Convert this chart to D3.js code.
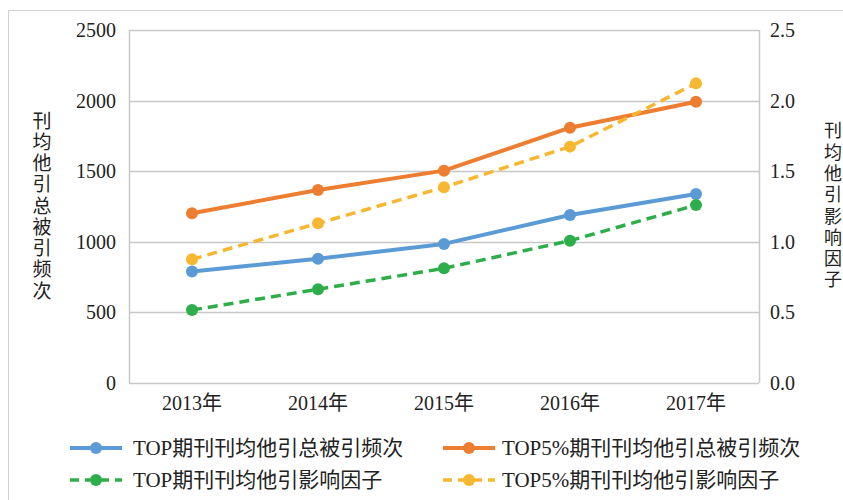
<!DOCTYPE html>
<html><head><meta charset="utf-8">
<script src="https://cdn.jsdelivr.net/npm/d3@7"></script>
<style>
html,body{margin:0;padding:0;background:#fff;}
svg{display:block;}
text{font-family:"Liberation Serif","Noto Sans CJK SC",serif;fill:#222;}
</style></head>
<body>
<script>
const years = ["2013年","2014年","2015年","2016年","2017年"];
const topCites = [790, 880, 985, 1190, 1338];
const top5Cites = [1202, 1367, 1504, 1808, 1992];
const topIF = [0.517, 0.664, 0.812, 1.008, 1.26];
const top5IF = [0.876, 1.131, 1.386, 1.674, 2.122];
const leftTicks = [0, 500, 1000, 1500, 2000, 2500];
const rightTicks = [0, 0.5, 1.0, 1.5, 2.0, 2.5];
const leftTitle = "刊均他引总被引频次";
const rightTitle = "刊均他引影响因子";

const series = [
  {name:"TOP期刊刊均他引总被引频次", values: topCites, axis:"left", color:"#5B9BD5", dash:null},
  {name:"TOP5%期刊刊均他引总被引频次", values: top5Cites, axis:"left", color:"#ED7D31", dash:null},
  {name:"TOP期刊刊均他引影响因子", values: topIF, axis:"right", color:"#2EAD4B", dash:"10,6"},
  {name:"TOP5%期刊刊均他引影响因子", values: top5IF, axis:"right", color:"#F7B731", dash:"10,6"}
];

const W = 843, H = 500;
const m = {left:129, top:30, right:84, bottom:117};
const svg = d3.select("body").append("svg").attr("width",W).attr("height",H);

svg.append("rect").attr("x",8.5).attr("y",10.5).attr("width",W).attr("height",H)
  .attr("fill","none").attr("stroke","#d0d0d0").attr("stroke-width",1);

const x = d3.scaleBand().domain(years).range([m.left, W-m.right]);
const yL = d3.scaleLinear().domain([0,2500]).range([H-m.bottom, m.top]);
const yR = d3.scaleLinear().domain([0,2.5]).range([H-m.bottom, m.top]);

// gridlines
svg.append("g").selectAll("line").data(leftTicks).join("line")
  .attr("x1",m.left).attr("x2",W-m.right)
  .attr("y1",d=>Math.round(yL(d))+0.5).attr("y2",d=>Math.round(yL(d))+0.5)
  .attr("stroke","#c8c8c8").attr("stroke-width",1.5);
// plot frame sides
svg.append("line").attr("x1",m.left+0.5).attr("x2",m.left+0.5).attr("y1",m.top).attr("y2",H-m.bottom)
  .attr("stroke","#c8c8c8").attr("stroke-width",1.5);
svg.append("line").attr("x1",W-m.right+0.5).attr("x2",W-m.right+0.5).attr("y1",m.top).attr("y2",H-m.bottom)
  .attr("stroke","#c8c8c8").attr("stroke-width",1.5);

const fs = 20;
// left axis
const gl = svg.append("g").attr("transform",`translate(${m.left},0)`)
  .call(d3.axisLeft(yL).tickValues(leftTicks).tickSize(0).tickPadding(13).tickFormat(d3.format("d")));
gl.select(".domain").remove();
gl.selectAll("text").attr("font-size",fs).attr("font-family","Liberation Serif").attr("fill","#222");
// right axis
const gr = svg.append("g").attr("transform",`translate(${W-m.right},0)`)
  .call(d3.axisRight(yR).tickValues(rightTicks).tickSize(0).tickPadding(11).tickFormat(d3.format(".1f")));
gr.select(".domain").remove();
gr.selectAll("text").attr("font-size",fs).attr("font-family","Liberation Serif").attr("fill","#222");
// x axis
const gx = svg.append("g").attr("transform",`translate(0,${H-m.bottom})`)
  .call(d3.axisBottom(x).tickSize(0).tickPadding(13));
gx.select(".domain").remove();
gx.selectAll("text").attr("font-size",fs).attr("fill","#222");

// axis titles (vertical stacked)
svg.append("g").selectAll("text").data(leftTitle.split("")).join("text")
  .attr("x",42).attr("y",(d,i)=>121+i*21.25).attr("dy","0.35em")
  .attr("text-anchor","middle").attr("font-size",19).attr("font-family","Noto Sans CJK SC").text(d=>d);
svg.append("g").selectAll("text").data(rightTitle.split("")).join("text")
  .attr("x",833).attr("y",(d,i)=>131+i*21.3).attr("dy","0.35em")
  .attr("text-anchor","middle").attr("font-size",18).attr("font-family","Noto Sans CJK SC").text(d=>d);

// lines
series.forEach(s=>{
  const y = s.axis==="left" ? yL : yR;
  const line = d3.line().x((d,i)=>x(years[i])+x.bandwidth()/2).y(d=>y(d));
  svg.append("path").datum(s.values).attr("d",line).attr("fill","none")
    .attr("stroke",s.color).attr("stroke-width",s.dash?3.5:4)
    .attr("stroke-dasharray",s.dash).attr("stroke-linejoin","round");
  svg.append("g").selectAll("circle").data(s.values).join("circle")
    .attr("cx",(d,i)=>x(years[i])+x.bandwidth()/2).attr("cy",d=>y(d))
    .attr("r",6).attr("fill",s.color);
});

// legend
const legPos = [[70,448],[443,448],[70,480],[443,480]];
series.forEach((s,i)=>{
  const [lx,ly] = legPos[i];
  const g = svg.append("g").attr("transform",`translate(${lx},${ly})`);
  g.append("line").attr("x1",0).attr("x2",52).attr("y1",0).attr("y2",0)
    .attr("stroke",s.color).attr("stroke-width",s.dash?3.5:4).attr("stroke-dasharray",s.dash?"9,6":null);
  g.append("circle").attr("cx",26).attr("cy",0).attr("r",6).attr("fill",s.color);
  g.append("text").attr("x",i%2===0?63:59).attr("y",0).attr("dy","0.35em")
    .attr("font-size",21).text(s.name);
});
</script>
</body></html>
